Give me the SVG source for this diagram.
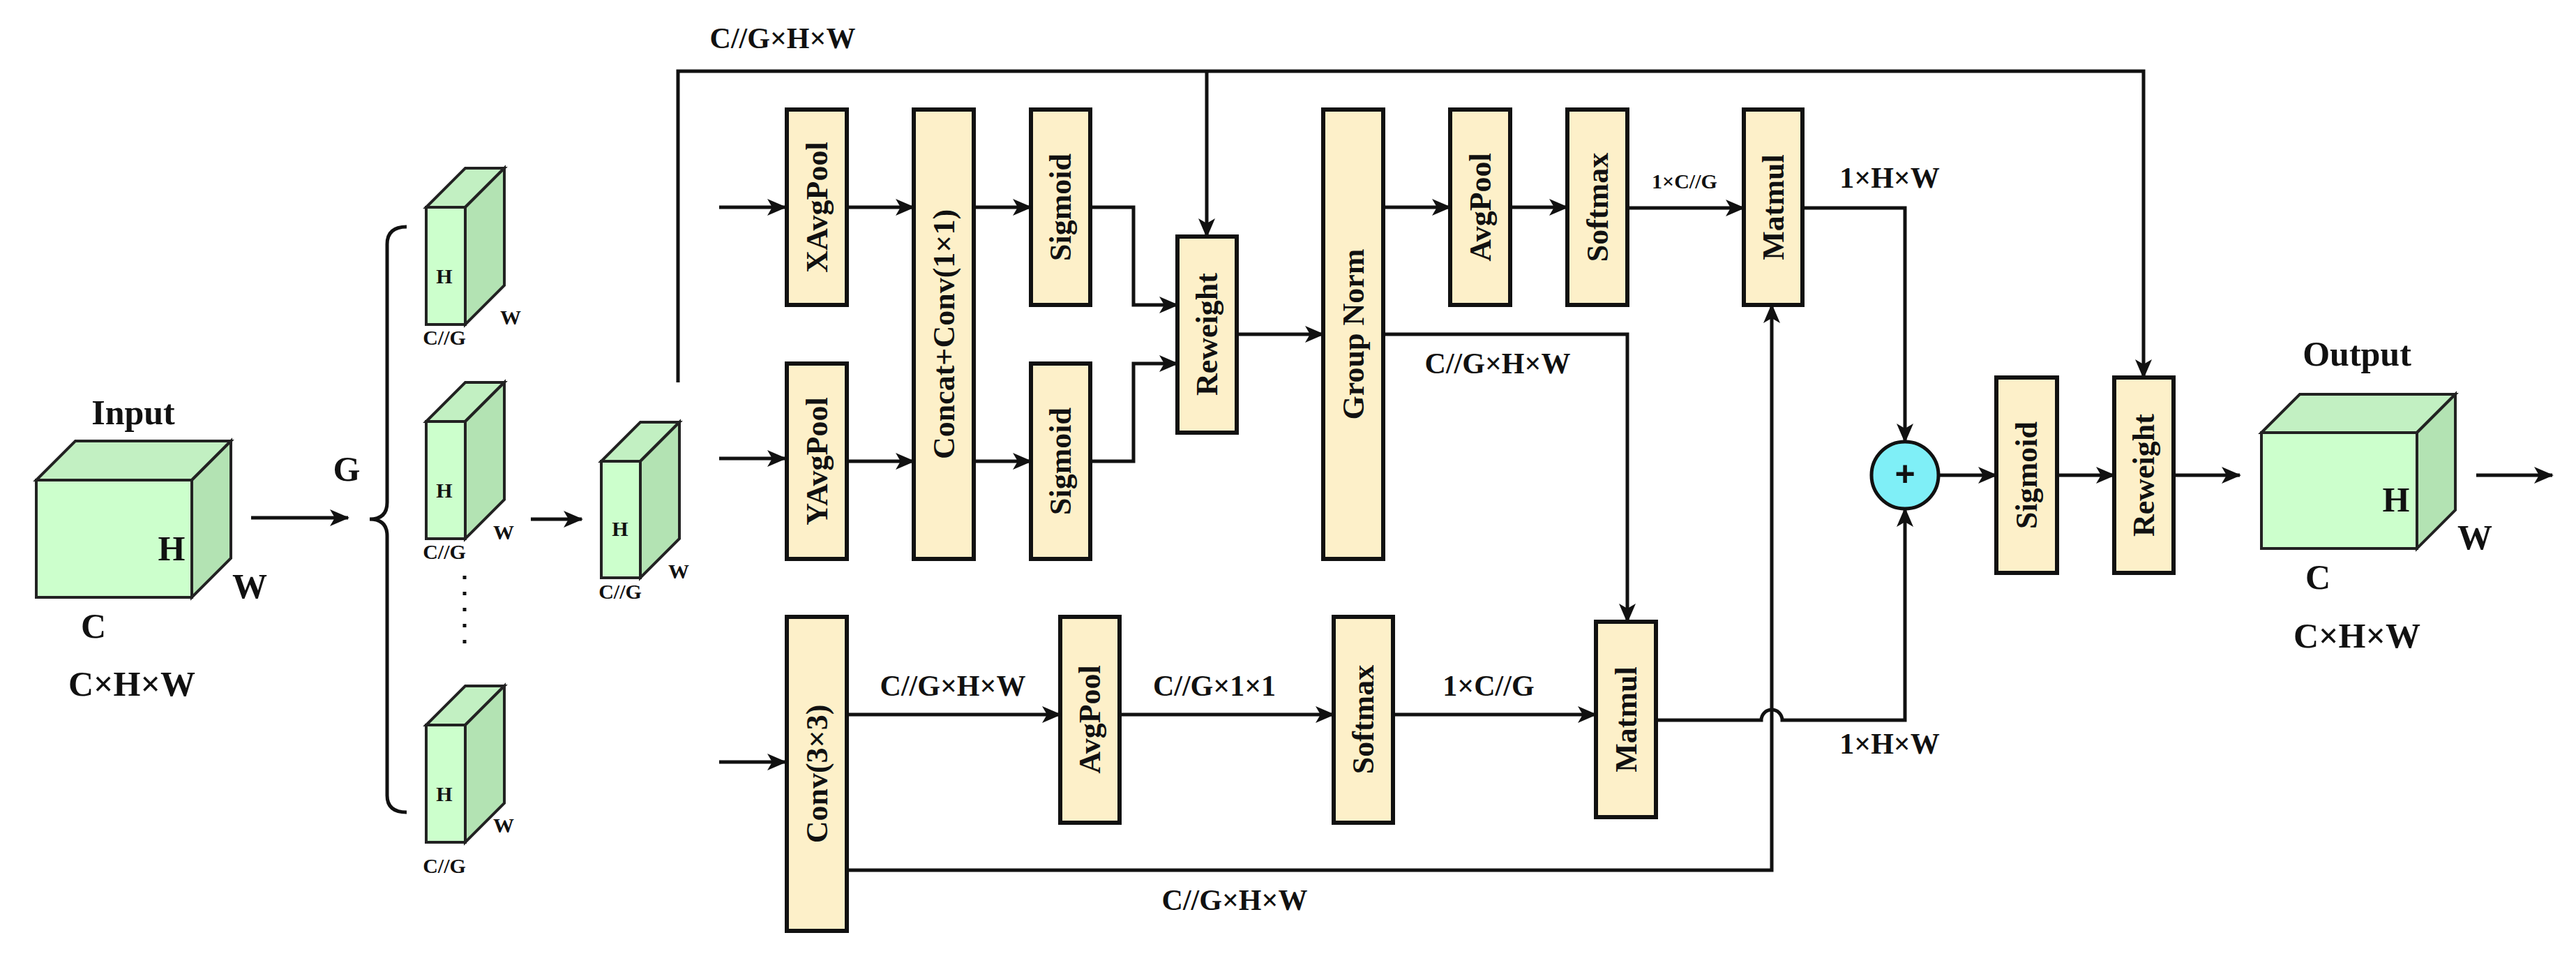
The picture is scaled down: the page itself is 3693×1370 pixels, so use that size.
<svg xmlns="http://www.w3.org/2000/svg" width="3693" height="1370" viewBox="0 0 3693 1370">
<style>
text{font-family:"Liberation Serif","Times New Roman",serif;font-weight:bold;fill:#111;text-anchor:middle;dominant-baseline:central}
.box{fill:#FDF0C9;stroke:#111;stroke-width:6}
.bt{font-size:44px}
.lb{font-size:42px}
.sm{font-size:30px}
.big{font-size:50px}
.fr{fill:#CCFFCC;stroke:#222;stroke-width:4}
.tp{fill:#C2F0C2;stroke:#222;stroke-width:4}
.sd{fill:#B3E3B3;stroke:#222;stroke-width:4}
.ln{fill:none;stroke:#111;stroke-width:5}
</style>
<defs>
<marker id="a" markerUnits="userSpaceOnUse" markerWidth="30" markerHeight="24" refX="26" refY="12" orient="auto"><path d="M0,0 L28,12 L0,24 L7,12 z" fill="#111"/></marker>
</defs>

<g id="input">
<polygon class="tp" points="52,688 108,632 331,632 275,688"/>
<polygon class="sd" points="275,688 331,632 331,800 275,856"/>
<rect class="fr" x="52" y="688" width="223" height="168"/>
<text class="big" x="191" y="591">Input</text>
<text class="big" x="246" y="786">H</text>
<text class="big" x="358" y="840">W</text>
<text class="big" x="134" y="897">C</text>
<text class="big" x="189" y="980">C×H×W</text>
</g>
<text id="g" class="big" x="497" y="672">G</text>
<path id="brace" class="ln" d="M583,325 Q555,325 555,350 L555,720 Q555,744 530,744 Q555,744 555,768 L555,1140 Q555,1164 583,1164"/>

<g id="cube1">
<polygon class="tp" points="611,297 667,241 723,241 667,297"/>
<polygon class="sd" points="667,297 723,241 723,409 667,465"/>
<rect class="fr" x="611" y="297" width="56" height="168"/>
<text class="sm" x="637" y="395">H</text><text class="sm" x="732" y="454">W</text><text class="sm" x="637" y="483">C//G</text>
</g>
<g id="cube2">
<polygon class="tp" points="611,604 667,548 723,548 667,604"/>
<polygon class="sd" points="667,604 723,548 723,716 667,772"/>
<rect class="fr" x="611" y="604" width="56" height="168"/>
<text class="sm" x="637" y="702">H</text><text class="sm" x="722" y="762">W</text><text class="sm" x="637" y="790">C//G</text>
</g>
<g id="dots"><line x1="666" y1="825" x2="666" y2="925" stroke="#111" stroke-width="5" stroke-dasharray="5,18"/></g>
<g id="cube3">
<polygon class="tp" points="611,1039 667,983 723,983 667,1039"/>
<polygon class="sd" points="667,1039 723,983 723,1151 667,1207"/>
<rect class="fr" x="611" y="1039" width="56" height="168"/>
<text class="sm" x="637" y="1137">H</text><text class="sm" x="722" y="1182">W</text><text class="sm" x="637" y="1240">C//G</text>
</g>
<g id="cube4">
<polygon class="tp" points="862,661 918,605 974,605 918,661"/>
<polygon class="sd" points="918,661 974,605 974,772 918,828"/>
<rect class="fr" x="862" y="661" width="56" height="167"/>
<text class="sm" x="889" y="757">H</text><text class="sm" x="973" y="818">W</text><text class="sm" x="889" y="847">C//G</text>
</g>

<g id="xavg"><rect class="box" x="1128" y="157" width="86" height="280"/><text class="bt" transform="translate(1171,297) rotate(-90)">XAvgPool</text></g>
<g id="yavg"><rect class="box" x="1128" y="521" width="86" height="280"/><text class="bt" transform="translate(1171,661) rotate(-90)">YAvgPool</text></g>
<g id="conv3"><rect class="box" x="1128" y="884" width="86" height="450"/><text class="bt" transform="translate(1171,1109) rotate(-90)">Conv(3×3)</text></g>
<g id="concat"><rect class="box" x="1310" y="157" width="86" height="644"/><text class="bt" transform="translate(1353,479) rotate(-90)">Concat+Conv(1×1)</text></g>
<g id="sig1"><rect class="box" x="1478" y="157" width="85" height="280"/><text class="bt" transform="translate(1520,297) rotate(-90)">Sigmoid</text></g>
<g id="sig2"><rect class="box" x="1478" y="521" width="85" height="280"/><text class="bt" transform="translate(1520,661) rotate(-90)">Sigmoid</text></g>
<g id="rew1"><rect class="box" x="1688" y="339" width="85" height="281"/><text class="bt" transform="translate(1730,479) rotate(-90)">Reweight</text></g>
<g id="gn"><rect class="box" x="1897" y="157" width="86" height="644"/><text class="bt" transform="translate(1940,479) rotate(-90)">Group Norm</text></g>
<g id="avg1"><rect class="box" x="2079" y="157" width="86" height="280"/><text class="bt" transform="translate(2122,297) rotate(-90)">AvgPool</text></g>
<g id="soft1"><rect class="box" x="2247" y="157" width="86" height="280"/><text class="bt" transform="translate(2290,297) rotate(-90)">Softmax</text></g>
<g id="mat1"><rect class="box" x="2500" y="157" width="84" height="280"/><text class="bt" transform="translate(2542,297) rotate(-90)">Matmul</text></g>
<g id="avg2"><rect class="box" x="1520" y="884" width="85" height="295"/><text class="bt" transform="translate(1562,1031) rotate(-90)">AvgPool</text></g>
<g id="soft2"><rect class="box" x="1912" y="884" width="85" height="295"/><text class="bt" transform="translate(1954,1031) rotate(-90)">Softmax</text></g>
<g id="mat2"><rect class="box" x="2288" y="891" width="86" height="280"/><text class="bt" transform="translate(2331,1031) rotate(-90)">Matmul</text></g>
<g id="plus"><circle cx="2731" cy="681" r="48" fill="#7FEFF7" stroke="#111" stroke-width="5"/><text x="2731" y="679" style="font-size:50px;font-family:'Liberation Sans',sans-serif">+</text></g>
<g id="sig3"><rect class="box" x="2862" y="541" width="87" height="280"/><text class="bt" transform="translate(2905,681) rotate(-90)">Sigmoid</text></g>
<g id="rew2"><rect class="box" x="3031" y="541" width="85" height="280"/><text class="bt" transform="translate(3073,681) rotate(-90)">Reweight</text></g>
<g id="output">
<polygon class="tp" points="3242,620 3297,565 3520,565 3465,620"/>
<polygon class="sd" points="3465,620 3520,565 3520,731 3465,786"/>
<rect class="fr" x="3242" y="620" width="223" height="166"/>
<text class="big" x="3379" y="507">Output</text>
<text class="big" x="3435" y="716">H</text>
<text class="big" x="3548" y="770">W</text>
<text class="big" x="3323" y="827">C</text>
<text class="big" x="3379" y="911">C×H×W</text>
</g>

<g id="connectors">
<line class="ln" x1="360" y1="742" x2="499" y2="742" marker-end="url(#a)"/>
<line class="ln" x1="761" y1="744" x2="834" y2="744" marker-end="url(#a)"/>
<polyline class="ln" points="972,548 972,102 3073,102 3073,541" marker-end="url(#a)"/>
<line class="ln" x1="1730" y1="102" x2="1730" y2="339" marker-end="url(#a)"/>
<line class="ln" x1="1031" y1="297" x2="1126" y2="297" marker-end="url(#a)"/>
<line class="ln" x1="1031" y1="657" x2="1126" y2="657" marker-end="url(#a)"/>
<line class="ln" x1="1031" y1="1092" x2="1126" y2="1092" marker-end="url(#a)"/>
<line class="ln" x1="1214" y1="297" x2="1310" y2="297" marker-end="url(#a)"/>
<line class="ln" x1="1214" y1="661" x2="1310" y2="661" marker-end="url(#a)"/>
<line class="ln" x1="1396" y1="297" x2="1478" y2="297" marker-end="url(#a)"/>
<line class="ln" x1="1396" y1="661" x2="1478" y2="661" marker-end="url(#a)"/>
<polyline class="ln" points="1563,297 1625,297 1625,437 1688,437" marker-end="url(#a)"/>
<polyline class="ln" points="1563,661 1625,661 1625,521 1688,521" marker-end="url(#a)"/>
<line class="ln" x1="1773" y1="479" x2="1897" y2="479" marker-end="url(#a)"/>
<line class="ln" x1="1983" y1="297" x2="2079" y2="297" marker-end="url(#a)"/>
<line class="ln" x1="2165" y1="297" x2="2247" y2="297" marker-end="url(#a)"/>
<line class="ln" x1="2333" y1="298" x2="2500" y2="298" marker-end="url(#a)"/>
<polyline class="ln" points="1983,479 2333,479 2333,891" marker-end="url(#a)"/>
<line class="ln" x1="1214" y1="1024" x2="1520" y2="1024" marker-end="url(#a)"/>
<line class="ln" x1="1605" y1="1024" x2="1912" y2="1024" marker-end="url(#a)"/>
<line class="ln" x1="1997" y1="1024" x2="2288" y2="1024" marker-end="url(#a)"/>
<polyline class="ln" points="1214,1247 2540,1247 2540,437" marker-end="url(#a)"/>
<polyline class="ln" points="2584,298 2731,298 2731,633" marker-end="url(#a)"/>
<path class="ln" d="M2374,1032 L2525,1032 A15,15 0 0 1 2555,1032 L2731,1032 L2731,729" marker-end="url(#a)"/>
<line class="ln" x1="2779" y1="681" x2="2862" y2="681" marker-end="url(#a)"/>
<line class="ln" x1="2949" y1="681" x2="3031" y2="681" marker-end="url(#a)"/>
<line class="ln" x1="3116" y1="681" x2="3211" y2="681" marker-end="url(#a)"/>
<line class="ln" x1="3550" y1="681" x2="3659" y2="681" marker-end="url(#a)"/>
</g>

<g id="labels">
<text class="lb" x="1122" y="55">C//G×H×W</text>
<text class="lb" x="2147" y="521">C//G×H×W</text>
<text class="lb" x="1366" y="983">C//G×H×W</text>
<text class="lb" x="1741" y="983">C//G×1×1</text>
<text class="lb" x="2134" y="983">1×C//G</text>
<text class="lb" x="1770" y="1290">C//G×H×W</text>
<text class="sm" x="2415" y="259">1×C//G</text>
<text class="lb" x="2709" y="255">1×H×W</text>
<text class="lb" x="2709" y="1066">1×H×W</text>
</g>
</svg>
